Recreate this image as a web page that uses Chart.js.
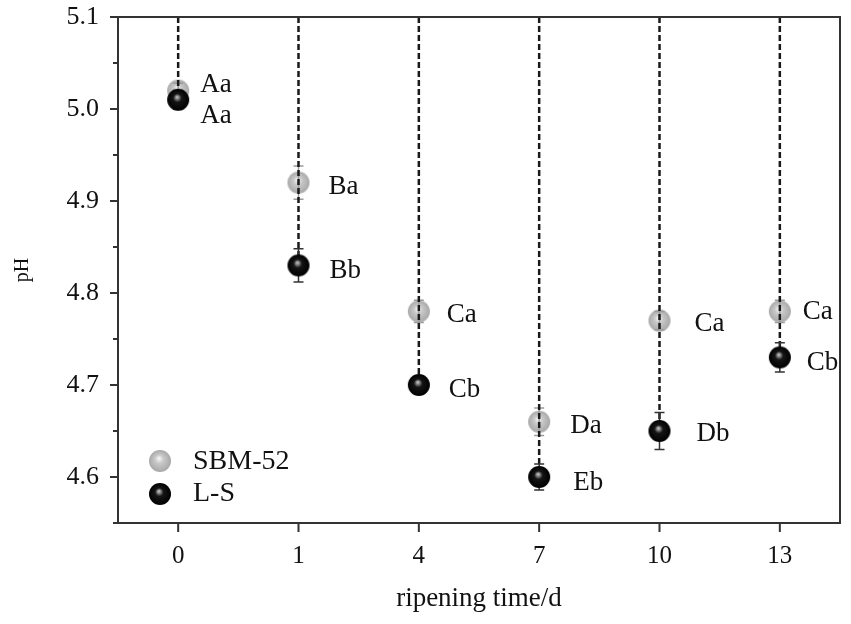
<!DOCTYPE html>
<html lang="en">
<head>
    <meta charset="UTF-8">
    <title>pH during ripening</title>
    <script src="https://cdn.jsdelivr.net/npm/chart.js"></script>
    <style>
        html, body { margin: 0; padding: 0; background: #fff; }
        #wrap { width: 851px; height: 624px; }
    </style>
</head>
<body>
    <div id="wrap"><canvas id="phChart"></canvas></div>

    <script>
        // data
        const xLabels = ['0', '1', '4', '7', '10', '13'];
        const sbmValues = [5.02, 4.92, 4.78, 4.66, 4.77, 4.78];
        const lsValues = [5.01, 4.83, 4.70, 4.60, 4.65, 4.73];
        const sbmErr = [0.008, 0.018, 0.012, 0.015, 0.010, 0.012];
        const lsErr = [0.010, 0.018, 0.006, 0.014, 0.020, 0.016];
        const sbmLetters = ['Aa', 'Ba', 'Ca', 'Da', 'Ca', 'Ca'];
        const lsLetters = ['Aa', 'Bb', 'Cb', 'Eb', 'Db', 'Cb'];
        const yTicks = [4.6, 4.7, 4.8, 4.9, 5.0, 5.1];
        const yMinorTicks = [4.55, 4.65, 4.75, 4.85, 4.95, 5.05];

        const FONT = '"Liberation Serif", "Times New Roman", serif';

        // sphere markers
        function sphere(r, base, edge, hi) {
            const c = document.createElement('canvas');
            c.width = c.height = r * 2 + 2;
            const g = c.getContext('2d');
            const cx = r + 1, cy = r + 1;
            const grad = g.createRadialGradient(cx - r * 0.1, cy - r * 0.25, r * 0.05, cx, cy, r);
            grad.addColorStop(0, hi);
            grad.addColorStop(0.35, base);
            grad.addColorStop(1, edge);
            g.fillStyle = grad;
            g.beginPath();
            g.arc(cx, cy, r, 0, Math.PI * 2);
            g.fill();
            return c;
        }
        const graySphere = sphere(11, '#c9c9c9', '#a8a8a8', '#f4f4f4');
        const blackSphere = sphere(11, '#151515', '#000000', '#bdbdbd');

        // label offsets (px) from each point
        const sbmOffsets = [[22, -6], [30, 4], [28, 4], [31, 4], [35, 3], [23, 1]];
        const lsOffsets = [[22, 16], [31, 6], [30, 5], [34, 6], [37, 3], [27, 6]];

        function errBars(ctx, x, y, vals, errs, color) {
            ctx.save();
            ctx.strokeStyle = color;
            ctx.lineWidth = 1.5;
            vals.forEach((v, i) => {
                const px = x.getPixelForValue(i);
                const top = y.getPixelForValue(v + errs[i]);
                const bot = y.getPixelForValue(v - errs[i]);
                ctx.beginPath();
                ctx.moveTo(px, top); ctx.lineTo(px, bot);
                ctx.moveTo(px - 5, top); ctx.lineTo(px + 5, top);
                ctx.moveTo(px - 5, bot); ctx.lineTo(px + 5, bot);
                ctx.stroke();
            });
            ctx.restore();
        }

        const decor = {
            id: 'decor',
            afterDatasetDraw(chart, args) {
                if (args.index !== 0) return;
                const { ctx, chartArea } = chart;
                const x = chart.scales.x, y = chart.scales.y;
                errBars(ctx, x, y, sbmValues, sbmErr, '#9a9a9a');
                // dashed drop lines from top to L-S points
                ctx.save();
                ctx.strokeStyle = '#1a1a1a';
                ctx.lineWidth = 2.5;
                ctx.setLineDash([6, 3]);
                lsValues.forEach((v, i) => {
                    const px = x.getPixelForValue(i);
                    ctx.beginPath();
                    ctx.moveTo(px, chartArea.top);
                    ctx.lineTo(px, y.getPixelForValue(v));
                    ctx.stroke();
                });
                ctx.restore();
                errBars(ctx, x, y, lsValues, lsErr, '#333');
            },
            afterDraw(chart) {
                const { ctx, chartArea } = chart;
                const x = chart.scales.x, y = chart.scales.y;
                ctx.save();
                // frame
                ctx.strokeStyle = '#333';
                ctx.lineWidth = 2;
                ctx.strokeRect(chartArea.left, chartArea.top, chartArea.right - chartArea.left, chartArea.bottom - chartArea.top);
                // ticks
                ctx.beginPath();
                yTicks.forEach(v => {
                    const py = y.getPixelForValue(v);
                    ctx.moveTo(chartArea.left, py); ctx.lineTo(chartArea.left - 8, py);
                });
                yMinorTicks.forEach(v => {
                    const py = y.getPixelForValue(v);
                    ctx.moveTo(chartArea.left, py); ctx.lineTo(chartArea.left - 5, py);
                });
                xLabels.forEach((l, i) => {
                    const px = x.getPixelForValue(i);
                    ctx.moveTo(px, chartArea.bottom); ctx.lineTo(px, chartArea.bottom + 9);
                });
                ctx.stroke();

                // point letters
                ctx.fillStyle = '#111';
                ctx.font = '27px ' + FONT;
                ctx.textBaseline = 'middle';
                ctx.textAlign = 'left';
                sbmValues.forEach((v, i) => {
                    ctx.fillText(sbmLetters[i], x.getPixelForValue(i) + sbmOffsets[i][0], y.getPixelForValue(v) + sbmOffsets[i][1]);
                });
                lsValues.forEach((v, i) => {
                    ctx.fillText(lsLetters[i], x.getPixelForValue(i) + lsOffsets[i][0], y.getPixelForValue(v) + lsOffsets[i][1]);
                });

                // legend
                const lx = chartArea.left + 42;
                const ly = chartArea.bottom - 62;
                ctx.drawImage(graySphere, lx - 12, ly - 12);
                ctx.drawImage(blackSphere, lx - 12, ly + 21);
                ctx.font = '28px ' + FONT;
                ctx.fillText('SBM-52', lx + 33, ly + 1);
                ctx.fillText('L-S', lx + 33, ly + 33);
                ctx.restore();
            }
        };

        const chart = new Chart(document.getElementById('phChart'), {
            type: 'line',
            data: {
                labels: xLabels,
                datasets: [{
                    label: 'SBM-52',
                    data: sbmValues,
                    showLine: false,
                    pointStyle: graySphere,
                    order: 2
                }, {
                    label: 'L-S',
                    data: lsValues,
                    showLine: false,
                    pointStyle: blackSphere,
                    order: 1
                }]
            },
            options: {
                responsive: true,
                maintainAspectRatio: false,
                animation: false,
                layout: { padding: { top: 17, right: 11, left: 0, bottom: 0 } },
                plugins: {
                    legend: { display: false },
                    tooltip: { enabled: false }
                },
                scales: {
                    x: {
                        offset: true,
                        grid: { display: false },
                        border: { display: false },
                        ticks: {
                            color: '#111',
                            font: { family: FONT, size: 25 },
                            padding: 10
                        },
                        title: {
                            display: true,
                            text: 'ripening time/d',
                            color: '#111',
                            font: { family: FONT, size: 27 },
                            padding: { top: 0, bottom: 9 }
                        },
                        afterFit(scale) {
                            scale.height = 101;
                            scale.paddingLeft = 0;
                            scale.paddingRight = 0;
                        }
                    },
                    y: {
                        min: 4.55,
                        max: 5.1,
                        grid: { display: false },
                        border: { display: false },
                        afterBuildTicks(scale) {
                            scale.ticks = yTicks.map(v => ({ value: v }));
                        },
                        ticks: {
                            color: '#111',
                            font: { family: FONT, size: 26 },
                            padding: 11,
                            callback: v => v.toFixed(1)
                        },
                        title: {
                            display: true,
                            text: 'pH',
                            color: '#111',
                            font: { family: FONT, size: 20 },
                            padding: { top: 11, bottom: 0 }
                        },
                        afterFit(scale) {
                            scale.width = 118;
                            scale.paddingTop = 0;
                            scale.paddingBottom = 0;
                        }
                    }
                }
            },
            plugins: [decor]
        });
    </script>
</body>
</html>
